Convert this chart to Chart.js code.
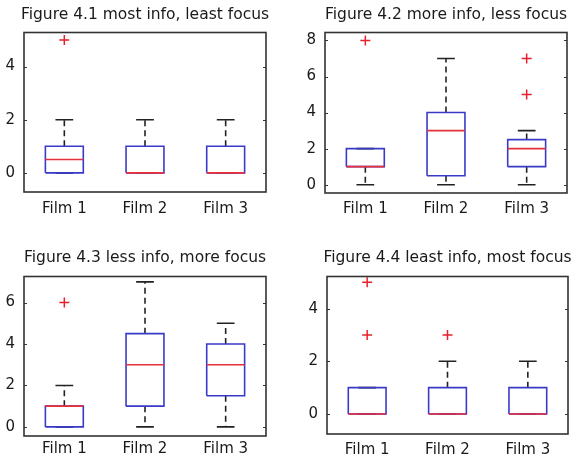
<!DOCTYPE html>
<html lang="en">
<head>
  <meta charset="UTF-8" />
  <title>Figure 4.1 - 4.4</title>
  <script src="https://cdn.jsdelivr.net/npm/chart.js"></script>
  <style>
    body { margin: 0; background: #fff; overflow: hidden; }
    .panel { position: absolute; }
  </style>
</head>
<body>
  <div class="panel" style="left:0;top:0;"><canvas id="fig1" width="290" height="230"></canvas></div>
  <div class="panel" style="left:290px;top:0;"><canvas id="fig2" width="312" height="230"></canvas></div>
  <div class="panel" style="left:0;top:230px;"><canvas id="fig3" width="290" height="231"></canvas></div>
  <div class="panel" style="left:290px;top:230px;"><canvas id="fig4" width="315" height="231"></canvas></div>

  <script>
    const films = ['Film 1', 'Film 2', 'Film 3'];

    // Figure 4.1
    const fig1Title = 'Figure 4.1 most info, least focus';
    const fig1Q1  = [0, 0, 0];
    const fig1Med = [0.5, 0, 0];
    const fig1Q3  = [1, 1, 1];
    const fig1Lo  = [0, 0, 0];
    const fig1Hi  = [2, 2, 2];
    const fig1Out = [[5], [], []];
    const fig1Ticks = [0, 2, 4];

    // Figure 4.2
    const fig2Title = 'Figure 4.2 more info, less focus';
    const fig2Q1  = [1, 0.5, 1];
    const fig2Med = [1, 3, 2];
    const fig2Q3  = [2, 4, 2.5];
    const fig2Lo  = [0, 0, 0];
    const fig2Hi  = [2, 7, 3];
    const fig2Out = [[8], [], [5, 7]];
    const fig2Ticks = [0, 2, 4, 6, 8];

    // Figure 4.3
    const fig3Title = 'Figure 4.3 less info, more focus';
    const fig3Q1  = [0, 1, 1.5];
    const fig3Med = [1, 3, 3];
    const fig3Q3  = [1, 4.5, 4];
    const fig3Lo  = [0, 0, 0];
    const fig3Hi  = [2, 7, 5];
    const fig3Out = [[6], [], []];
    const fig3Ticks = [0, 2, 4, 6];

    // Figure 4.4
    const fig4Title = 'Figure 4.4 least info, most focus';
    const fig4Q1  = [0, 0, 0];
    const fig4Med = [0, 0, 0];
    const fig4Q3  = [1, 1, 1];
    const fig4Lo  = [0, 0, 0];
    const fig4Hi  = [1, 2, 2];
    const fig4Out = [[3, 5], [3], []];
    const fig4Ticks = [0, 2, 4];

    const BOX_HALF = 0.235;
    const CAP_HALF = 0.11;
    const FONT = "'DejaVu Sans', sans-serif";

    // closed frame + small inward ticks, like matlab axes
    const framePlugin = {
      id: 'frame',
      afterDatasetsDraw(chart) {
        const { ctx, chartArea: a, scales: { y } } = chart;
        ctx.save();
        ctx.strokeStyle = '#333';
        ctx.lineWidth = 1.6;
        ctx.strokeRect(a.left, a.top, a.width, a.height);
        ctx.lineWidth = 1;
        y.ticks.forEach(t => {
          const py = Math.round(y.getPixelForValue(t.value)) + 0.5;
          ctx.beginPath();
          ctx.moveTo(a.left, py); ctx.lineTo(a.left + 3, py);
          ctx.moveTo(a.right - 3, py); ctx.lineTo(a.right, py);
          ctx.stroke();
        });
        ctx.restore();
      }
    };

    function boxSets(q1, med, q3, lo, hi, out) {
      const box = [], mid = [], whisk = [], caps = [], pts = [];
      q1.forEach((_, i) => {
        const x = i + 1;
        box.push({x: x - BOX_HALF, y: q1[i]}, {x: x + BOX_HALF, y: q1[i]}, {x: x + BOX_HALF, y: q3[i]},
                 {x: x - BOX_HALF, y: q3[i]}, {x: x - BOX_HALF, y: q1[i]}, {x: x, y: null});
        mid.push({x: x - BOX_HALF, y: med[i]}, {x: x + BOX_HALF, y: med[i]}, {x: x, y: null});
        whisk.push({x: x, y: q3[i]}, {x: x, y: hi[i]}, {x: x, y: null},
                   {x: x, y: q1[i]}, {x: x, y: lo[i]}, {x: x, y: null});
        caps.push({x: x - CAP_HALF, y: hi[i]}, {x: x + CAP_HALF, y: hi[i]}, {x: x, y: null},
                  {x: x - CAP_HALF, y: lo[i]}, {x: x + CAP_HALF, y: lo[i]}, {x: x, y: null});
        out[i].forEach(v => pts.push({x: x, y: v}));
      });
      const line = (data, color, order, dash) => ({
        type: 'line', data, borderColor: color, borderWidth: 1.6, borderDash: dash || [],
        pointRadius: 0, spanGaps: false, tension: 0, order
      });
      return [
        {
          type: 'scatter', data: pts, pointStyle: 'cross', pointRadius: 5,
          borderColor: '#e8202a', backgroundColor: '#e8202a', pointBorderWidth: 1.5, order: 0
        },
        line(mid, '#e8303a', 1),
        line(box, '#3a3ac8', 2),
        line(whisk, '#222', 3, [6, 4]),
        line(caps, '#222', 4)
      ];
    }

    // yw: room left of the frame; the same room is kept on the right so the title centres on the frame
    function makeFig(id, title, q1, med, q3, lo, hi, out, yTicks, ymin, ymax, f) {
      new Chart(document.getElementById(id), {
        type: 'line',
        data: { datasets: boxSets(q1, med, q3, lo, hi, out) },
        options: {
          responsive: false,
          animation: false,
          layout: { padding: 0 },
          plugins: {
            legend: { display: false },
            tooltip: { enabled: false },
            title: {
              display: true, text: title, color: '#1a1a1a',
              font: { family: FONT, size: 15.5, weight: 'normal', lineHeight: 1 },
              padding: { top: f.titleTop, bottom: f.titleBottom }
            }
          },
          scales: {
            x: {
              type: 'linear', min: 0.5, max: 3.5,
              grid: { display: false, drawTicks: false },
              border: { display: false },
              afterBuildTicks: s => { s.ticks = films.map((_, i) => ({ value: i + 1 })); },
              afterFit: s => { s.height = f.xh; },
              ticks: {
                color: '#1a1a1a', padding: f.xpad, maxRotation: 0,
                font: { family: FONT, size: 15 },
                callback: v => films[v - 1]
              }
            },
            y: {
              min: ymin, max: ymax,
              grid: { display: false, drawTicks: false },
              border: { display: false },
              afterBuildTicks: s => { s.ticks = yTicks.map(v => ({ value: v })); },
              afterFit: s => { s.width = f.yw; },
              ticks: { color: '#1a1a1a', padding: 9, font: { family: FONT, size: 15 } }
            },
            y2: {
              position: 'right',
              grid: { display: false, drawTicks: false },
              border: { display: false },
              ticks: { display: false },
              afterFit: s => { s.width = f.yw; }
            }
          }
        },
        plugins: [framePlugin]
      });
    }

    makeFig('fig1', fig1Title, fig1Q1, fig1Med, fig1Q3, fig1Lo, fig1Hi, fig1Out, fig1Ticks, -0.72, 5.28,
            { yw: 24, xh: 38, xpad: 8, titleTop: 7, titleBottom: 10 });
    makeFig('fig2', fig2Title, fig2Q1, fig2Med, fig2Q3, fig2Lo, fig2Hi, fig2Out, fig2Ticks, -0.46, 8.44,
            { yw: 35, xh: 37, xpad: 7, titleTop: 7, titleBottom: 10 });
    makeFig('fig3', fig3Title, fig3Q1, fig3Med, fig3Q3, fig3Lo, fig3Hi, fig3Out, fig3Ticks, -0.44, 7.26,
            { yw: 24, xh: 25, xpad: 4, titleTop: 20, titleBottom: 11 });
    makeFig('fig4', fig4Title, fig4Q1, fig4Med, fig4Q3, fig4Lo, fig4Hi, fig4Out, fig4Ticks, -0.76, 5.22,
            { yw: 37, xh: 27, xpad: 7, titleTop: 20, titleBottom: 11 });
  </script>
</body>
</html>
